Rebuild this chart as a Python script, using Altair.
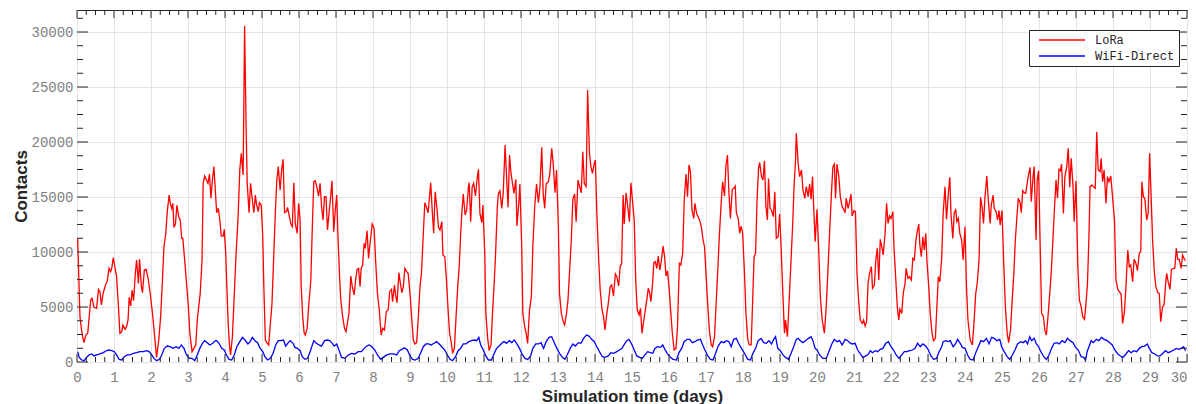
import altair as alt
import pandas as pd

# ---------------- data ----------------
SERIES = ["LoRa", "WiFi-Direct"]
COLORS = ["#ff0000", "#0000ff"]

lora_days = [
    0.018, 0.08, 0.135, 0.19, 0.24, 0.29, 0.37, 0.405, 0.46, 0.53, 0.58, 0.62, 0.66, 0.71, 0.77, 0.82, 0.865, 0.91, 0.946, 0.98,
    1.03, 1.07, 1.12, 1.16, 1.21, 1.24, 1.30, 1.34, 1.38, 1.41, 1.45, 1.49, 1.53, 1.58, 1.61, 1.66, 1.69, 1.74, 1.77, 1.82, 1.87, 1.93, 1.98,
    2.04, 2.10, 2.15, 2.21, 2.26, 2.31, 2.35, 2.40, 2.44, 2.49, 2.52, 2.56, 2.59, 2.62, 2.66, 2.70, 2.75, 2.79, 2.83, 2.86, 2.91, 2.96,
    3.01, 3.05, 3.11, 3.16, 3.21, 3.25, 3.29, 3.33, 3.38, 3.41, 3.45, 3.50, 3.54, 3.58, 3.62, 3.66, 3.70,
    3.775, 3.82, 3.86, 3.90, 3.95, 3.98, 4.02, 4.05, 4.09, 4.12, 4.15, 4.20, 4.24, 4.30, 4.35, 4.40, 4.44, 4.49, 4.53, 4.57,
    4.60, 4.65, 4.69, 4.74, 4.78, 4.82, 4.85, 4.90, 4.93, 4.98, 5.02, 5.05, 5.09, 5.13, 5.18, 5.22, 5.27, 5.32, 5.36, 5.40,
    5.44, 5.49, 5.53, 5.57, 5.61, 5.66, 5.69, 5.74, 5.78, 5.82, 5.86, 5.90, 5.95, 5.99, 6.03, 6.06, 6.10, 6.14, 6.17, 6.22,
    6.26, 6.32, 6.36, 6.40, 6.44, 6.49, 6.53, 6.57, 6.61, 6.65, 6.69, 6.73, 6.77, 6.82, 6.86, 6.89, 6.94, 6.98, 7.02, 7.05,
    7.10, 7.13, 7.18, 7.23, 7.27, 7.32, 7.35, 7.40, 7.44, 7.49, 7.53, 7.57, 7.61,
    7.65, 7.68, 7.72, 7.76, 7.79, 7.84, 7.88, 7.93, 7.98, 8.03, 8.07, 8.12, 8.17, 8.22, 8.26, 8.31, 8.36, 8.41, 8.45, 8.50,
    8.53, 8.58, 8.61, 8.65, 8.70, 8.74, 8.78, 8.82, 8.86, 8.91, 8.95, 9.00, 9.05, 9.09, 9.13, 9.18, 9.22, 9.27, 9.31, 9.36,
    9.40, 9.44, 9.49, 9.52, 9.56, 9.60, 9.64, 9.68, 9.73, 9.77, 9.81, 9.86, 9.89, 9.94, 9.98, 10.03, 10.07, 10.12, 10.15, 10.20,
    10.24, 10.29, 10.33, 10.37, 10.40, 10.44, 10.49, 10.53, 10.58, 10.60, 10.64, 10.68, 10.72, 10.77, 10.81, 10.85, 10.89, 10.94, 10.97, 11.02,
    11.05, 11.10, 11.14, 11.19, 11.23, 11.27, 11.31, 11.36, 11.39, 11.43, 11.48, 11.52,
    11.57, 11.61, 11.65, 11.69, 11.73, 11.77, 11.81, 11.86, 11.89, 11.94, 11.97, 12.02, 12.05, 12.10, 12.14, 12.18, 12.23, 12.28, 12.32, 12.37,
    12.42, 12.47, 12.51, 12.56, 12.60, 12.64, 12.68, 12.74, 12.78, 12.83, 12.87, 12.92, 12.96, 13.01, 13.04, 13.09, 13.14, 13.18, 13.23, 13.27,
    13.31, 13.36, 13.40, 13.45, 13.49, 13.54, 13.58, 13.63, 13.67, 13.71, 13.76, 13.80, 13.85, 13.89, 13.93, 13.98, 14.01, 14.05, 14.10, 14.14,
    14.19, 14.23, 14.27, 14.32, 14.36, 14.41, 14.45, 14.50, 14.55, 14.59, 14.64, 14.68, 14.72, 14.76, 14.79, 14.84, 14.88, 14.93, 14.97, 15.02,
    15.06, 15.10, 15.14, 15.19, 15.23, 15.27, 15.32, 15.36, 15.40, 15.44, 15.48,
    15.51, 15.55, 15.59, 15.63, 15.67, 15.71, 15.75, 15.79, 15.84, 15.88, 15.92, 15.96, 16.00, 16.05, 16.09, 16.14, 16.19, 16.23, 16.28, 16.32,
    16.37, 16.41, 16.46, 16.50, 16.54, 16.58, 16.62, 16.67, 16.70, 16.75, 16.79, 16.84, 16.88, 16.92, 16.96, 17.00, 17.05, 17.09, 17.14, 17.18,
    17.23, 17.27, 17.32, 17.36, 17.41, 17.45, 17.50, 17.54, 17.58, 17.62, 17.66, 17.71, 17.75, 17.79, 17.82, 17.87, 17.91, 17.95, 17.99, 18.04,
    18.08, 18.13, 18.17, 18.22, 18.25, 18.30, 18.34, 18.38, 18.42, 18.45, 18.50, 18.54, 18.58, 18.62, 18.66, 18.69, 18.73, 18.77, 18.82, 18.86,
    18.90, 18.95, 18.99, 19.03, 19.07, 19.12, 19.15, 19.20, 19.24, 19.29, 19.34, 19.38, 19.42,
    19.44, 19.49, 19.53, 19.58, 19.62, 19.67, 19.71, 19.76, 19.80, 19.84, 19.88, 19.91, 19.95, 20.00, 20.05, 20.09, 20.14, 20.20, 20.25, 20.30,
    20.34, 20.39, 20.43, 20.47, 20.50, 20.54, 20.59, 20.63, 20.68, 20.72, 20.76, 20.79, 20.84, 20.88, 20.92, 20.95, 21.00, 21.04, 21.08, 21.13,
    21.17, 21.22, 21.26, 21.30, 21.34, 21.38, 21.42, 21.47, 21.50, 21.55, 21.59, 21.63, 21.67, 21.71, 21.75, 21.79, 21.84, 21.88, 21.92, 21.96,
    22.00, 22.05, 22.08, 22.13, 22.17, 22.21, 22.24, 22.29, 22.33, 22.38, 22.41, 22.46, 22.50, 22.55, 22.59, 22.63, 22.67, 22.70, 22.75, 22.78,
    22.82, 22.86, 22.90, 22.94, 22.97, 23.02, 23.06, 23.11, 23.15, 23.20, 23.24, 23.28, 23.32,
    23.37, 23.41, 23.46, 23.50, 23.55, 23.59, 23.62, 23.67, 23.71, 23.75, 23.78, 23.82, 23.86, 23.91, 23.95, 24.00, 24.04, 24.08, 24.14, 24.20,
    24.24, 24.29, 24.33, 24.38, 24.42, 24.46, 24.50, 24.54, 24.59, 24.63, 24.68, 24.71, 24.76, 24.79, 24.84, 24.88, 24.92, 24.95, 25.00, 25.05,
    25.09, 25.14, 25.18, 25.23, 25.27, 25.32, 25.36, 25.41, 25.44, 25.49, 25.52, 25.56, 25.60, 25.64, 25.68, 25.72, 25.76, 25.79, 25.84, 25.87,
    25.92, 25.95, 25.99, 26.04, 26.07, 26.12, 26.16, 26.20, 26.25, 26.29, 26.33, 26.38, 26.42, 26.46, 26.50, 26.54, 26.58, 26.61, 26.66, 26.70,
    26.75, 26.79, 26.83, 26.87, 26.92, 26.95, 27.00, 27.05, 27.09, 27.14, 27.18, 27.23,
    27.27, 27.31, 27.35, 27.38, 27.43, 27.47, 27.52, 27.56, 27.60, 27.65, 27.68, 27.72, 27.76, 27.81, 27.85, 27.89, 27.94, 27.98, 28.04, 28.08,
    28.13, 28.17, 28.22, 28.26, 28.31, 28.35, 28.40, 28.44, 28.48, 28.53, 28.57, 28.62, 28.66, 28.71, 28.75, 28.78, 28.82, 28.86, 28.91, 28.95,
    28.99, 29.04, 29.07, 29.12, 29.16, 29.21, 29.25, 29.29, 29.34, 29.38, 29.42, 29.45, 29.49, 29.54, 29.58, 29.63, 29.67, 29.71, 29.75, 29.79,
    29.84, 29.88, 29.93, 29.96,
]
lora_contacts = [
    11240, 4120, 2610, 1760, 2450, 2610, 5640, 5790, 4970, 4880, 6600, 6390, 5180, 6300, 7000, 7390, 8510, 8210, 8670, 9480,
    8510, 7760, 5030, 2610, 2760, 3360, 2970, 3210, 3820, 5880, 5090, 6540, 5580, 8210, 9270, 7150, 9330, 6850, 6300, 8360, 8420, 7450, 6180,
    4420, 2300, 420, 2000, 4120, 7450, 10480, 11700, 13670, 15180, 14420, 13970, 14420, 12240, 12540, 14240, 13210, 12910, 11240, 11240, 9270, 7150,
    5030, 2610, 940, 1240, 1550, 3820, 5030, 6240, 9270, 16240, 16910, 16540, 16240, 17090, 14880, 16540, 17760,
    13570, 13970, 12910, 11450, 11450, 12060, 9880, 6850, 3210, 1550, 640, 2300, 5330, 9880, 12910, 17450, 18970, 17000, 30540, 21390,
    16240, 13570, 16240, 14730, 13570, 15180, 14360, 13670, 14480, 14270, 11390, 6850, 2000, 1760, 1550, 3210, 5330, 9880, 13510, 16540,
    17760, 15630, 17450, 18420, 13570, 13670, 14060, 13210, 12540, 12300, 16300, 12600, 11700, 14420, 12910, 6850, 4120, 2610, 2450, 3060,
    5030, 7450, 12300, 16390, 16480, 15790, 15090, 16240, 14120, 12910, 15030, 15030, 12000, 13820, 15180, 16480, 11850, 13820, 15180, 11700,
    7450, 5640, 4120, 3060, 2760, 3820, 4420, 7820, 6850, 6090, 7450, 8420, 8510,
    6850, 8510, 8820, 10790, 10330, 11940, 9420, 11090, 12540, 12150, 9270, 6240, 4730, 2450, 3060, 2910, 4580, 4730, 6390, 6600,
    5480, 7000, 6090, 5390, 8120, 7150, 6300, 6850, 8510, 8210, 8060, 6240, 3820, 2000, 1640, 1760, 3820, 6850, 8060, 11700,
    14480, 14120, 13570, 14730, 16300, 13820, 11700, 15480, 13880, 12240, 12000, 12760, 9730, 9570, 7760, 4730, 2610, 1700, 790, 1240,
    3820, 6850, 8670, 11700, 13510, 15270, 13360, 13820, 15940, 16300, 12760, 15940, 16240, 15090, 16540, 17510, 13510, 12670, 14270, 9880,
    4420, 2150, 1030, 1550, 4420, 6850, 9570, 14120, 15330, 15570, 13970, 15390,
    19730, 16850, 14060, 18820, 17150, 16240, 15330, 16600, 12360, 14420, 16180, 10480, 4420, 3210, 2610, 1700, 4730, 5940, 10480, 14120,
    16180, 14480, 15790, 19510, 15330, 13970, 16180, 16390, 17150, 19420, 18060, 15390, 17450, 12300, 6240, 4420, 3670, 3360, 4420, 5640,
    8060, 11090, 14790, 15270, 12760, 16540, 16000, 15390, 19120, 16240, 15940, 24720, 18970, 17760, 17150, 18060, 18360, 13510, 9270, 6540,
    4730, 4120, 2910, 4420, 5330, 6850, 7000, 6000, 8000, 7760, 6910, 8670, 8970, 15180, 12540, 15390, 14270, 12760, 16300, 14420,
    12910, 7450, 4790, 4270, 4880, 2610, 3820, 4730, 5640, 6700, 6240,
    5480, 6850, 9030, 9120, 8510, 9640, 8360, 9120, 10540, 9570, 7820, 8300, 6850, 4420, 2610, 1090, 1240, 3210, 8970, 8820,
    9880, 14570, 17090, 15030, 17910, 17300, 13820, 13060, 14420, 13450, 13210, 12760, 12150, 11090, 10480, 8060, 5030, 2910, 1550, 1390,
    2300, 5030, 8510, 11390, 14480, 16390, 15090, 17910, 18820, 15330, 13060, 15700, 15790, 16000, 13570, 13060, 11700, 12360, 11700, 8060,
    4420, 2000, 1550, 1550, 4420, 9570, 9880, 14730, 17600, 18120, 16850, 16540, 18300, 14120, 12910, 16690, 13970, 13820, 13210, 15480,
    11240, 11390, 13450, 10480, 6850, 2610, 3820, 2300, 5030, 8670, 12300, 15940, 18360,
    20790, 18060, 16850, 17450, 15630, 14880, 15940, 15030, 16180, 14790, 16850, 14120, 10940, 13880, 9880, 5940, 3820, 2610, 5030, 8670,
    11700, 15330, 17760, 18000, 14880, 18000, 16850, 15030, 14120, 13880, 13570, 14880, 13970, 14570, 15270, 13270, 13760, 13670, 8060, 5330,
    3820, 3510, 3820, 3270, 3670, 7150, 8060, 8670, 6700, 7000, 9270, 10330, 7450, 11150, 10480, 9730, 11700, 14420, 12600, 13270,
    13060, 13670, 10480, 7450, 5030, 3820, 4790, 4420, 6240, 7150, 8510, 7600, 7760, 7450, 9420, 9270, 10940, 11700, 12540, 10640,
    9570, 11390, 10180, 11700, 9270, 6850, 4420, 2610, 1940, 2150, 5030, 7760, 7300,
    9360, 13510, 15940, 12970, 15330, 16790, 13510, 11240, 13570, 13820, 12760, 13060, 11700, 11090, 9270, 12300, 6850, 3820, 2000, 1550,
    3360, 6240, 7150, 9270, 14970, 14120, 12600, 15030, 16910, 14730, 12600, 14270, 15180, 13970, 13670, 12910, 13760, 12450, 13760, 8670,
    5030, 2610, 1760, 2910, 5330, 8060, 11090, 13510, 14880, 14480, 13570, 15570, 15390, 15330, 16240, 17090, 17700, 14570, 16850, 17760,
    11090, 16540, 17390, 9270, 4420, 4120, 2850, 2450, 4420, 6240, 8060, 11390, 14120, 16540, 14880, 17510, 17390, 18000, 13510, 16850,
    17760, 19420, 15880, 18510, 15940, 12760, 16480, 8670, 5640, 5030, 4120, 3880,
    5330, 7150, 11390, 15940, 16090, 15940, 15790, 20940, 17450, 17300, 18510, 16390, 17450, 14420, 16850, 16390, 16910, 15330, 12910, 7450,
    6600, 6390, 6180, 3510, 4580, 6850, 10180, 8670, 8820, 7300, 9330, 8970, 8300, 9880, 10030, 16390, 15030, 14880, 12910, 13510,
    18970, 14120, 11090, 8060, 6850, 6300, 6240, 3670, 5030, 5180, 7000, 8060, 7300, 6600, 8420, 8510, 8510, 10330, 9330, 9330,
    8510, 9730, 9330, 9210,
]

wifi_days = [
    0.02, 0.06, 0.13, 0.19, 0.26, 0.32, 0.40, 0.46, 0.53, 0.62, 0.71, 0.78, 0.86, 0.94, 1.01, 1.07, 1.14, 1.21, 1.28, 1.36,
    1.43, 1.52, 1.61, 1.70, 1.79, 1.88, 1.95, 2.02, 2.08, 2.15, 2.23, 2.29, 2.36, 2.44, 2.51, 2.60, 2.68, 2.75, 2.82, 2.89,
    2.96, 3.04, 3.11, 3.18, 3.25, 3.32, 3.39, 3.45, 3.52, 3.59, 3.67, 3.74,
    3.77, 3.84, 3.91, 3.98, 4.04, 4.11, 4.18, 4.25, 4.32, 4.40, 4.47, 4.54, 4.62, 4.68, 4.74, 4.81, 4.88, 4.95, 5.02, 5.08,
    5.15, 5.23, 5.30, 5.37, 5.44, 5.51, 5.58, 5.64, 5.71, 5.76, 5.84, 5.89, 5.96, 6.03, 6.09, 6.16, 6.23, 6.30, 6.40, 6.47,
    6.54, 6.61, 6.69, 6.76, 6.83, 6.90, 6.95, 7.02, 7.08, 7.15, 7.24, 7.33, 7.42, 7.51, 7.60,
    7.69, 7.76, 7.83, 7.90, 7.97, 8.05, 8.12, 8.21, 8.28, 8.37, 8.46, 8.55, 8.64, 8.71, 8.78, 8.85, 8.93, 9.00, 9.07, 9.14,
    9.22, 9.29, 9.36, 9.43, 9.50, 9.57, 9.65, 9.72, 9.79, 9.86, 9.94, 10.01, 10.08, 10.15, 10.23, 10.30, 10.37, 10.44, 10.51, 10.59,
    10.66, 10.73, 10.80, 10.86, 10.91, 10.98, 11.05, 11.12, 11.20, 11.27, 11.34, 11.41, 11.48, 11.54,
    11.61, 11.68, 11.75, 11.82, 11.89, 11.96, 12.04, 12.11, 12.18, 12.26, 12.32, 12.40, 12.47, 12.54, 12.61, 12.68, 12.76, 12.83, 12.90, 12.97,
    13.04, 13.12, 13.19, 13.26, 13.33, 13.40, 13.47, 13.55, 13.62, 13.69, 13.77, 13.84, 13.91, 13.98, 14.05, 14.12, 14.20, 14.27, 14.36, 14.43,
    14.50, 14.59, 14.66, 14.73, 14.80, 14.86, 14.92, 14.99, 15.06, 15.13, 15.21, 15.28, 15.35, 15.42, 15.50,
    15.56, 15.62, 15.69, 15.77, 15.83, 15.89, 15.96, 16.04, 16.11, 16.20, 16.27, 16.34, 16.41, 16.49, 16.56, 16.63, 16.70, 16.77, 16.85, 16.91,
    16.97, 17.05, 17.12, 17.19, 17.26, 17.33, 17.41, 17.48, 17.55, 17.62, 17.68, 17.75, 17.82, 17.89, 17.96, 18.04, 18.13, 18.20, 18.27, 18.34,
    18.41, 18.49, 18.56, 18.63, 18.70, 18.77, 18.83, 18.88, 18.94, 19.01, 19.08, 19.15, 19.23, 19.30, 19.37, 19.44,
    19.49, 19.55, 19.62, 19.69, 19.77, 19.84, 19.89, 19.95, 20.00, 20.07, 20.16, 20.25, 20.32, 20.40, 20.47, 20.54, 20.61, 20.68, 20.76, 20.83,
    20.88, 20.95, 21.03, 21.10, 21.17, 21.24, 21.32, 21.39, 21.44, 21.50, 21.57, 21.64, 21.71, 21.78, 21.86, 21.93, 22.00, 22.07, 22.14, 22.22,
    22.29, 22.36, 22.43, 22.50, 22.58, 22.65, 22.72, 22.79, 22.86, 22.94, 23.01, 23.08, 23.15, 23.23, 23.30, 23.37,
    23.41, 23.48, 23.55, 23.60, 23.68, 23.75, 23.80, 23.87, 23.93, 24.00, 24.07, 24.14, 24.22, 24.29, 24.36, 24.43, 24.50, 24.58, 24.65, 24.72,
    24.79, 24.86, 24.94, 24.99, 25.06, 25.14, 25.21, 25.28, 25.35, 25.42, 25.50, 25.57, 25.64, 25.69, 25.75, 25.80, 25.87, 25.93, 25.98, 26.05,
    26.13, 26.20, 26.27, 26.34, 26.41, 26.48, 26.55, 26.62, 26.70, 26.77, 26.84, 26.92, 26.99, 27.06, 27.14, 27.21, 27.26,
    27.30, 27.35, 27.41, 27.47, 27.55, 27.62, 27.69, 27.76, 27.84, 27.91, 27.98, 28.05, 28.13, 28.20, 28.27, 28.35, 28.42, 28.49, 28.56, 28.64,
    28.71, 28.78, 28.85, 28.93, 28.98, 29.05, 29.13, 29.20, 29.27, 29.35, 29.42, 29.49, 29.56, 29.64, 29.71, 29.78, 29.85, 29.91, 29.96,
]
wifi_contacts = [
    940, 420, 180, 120, 420, 640, 730, 550, 640, 730, 850, 1000, 1090, 1030, 940, 640, 240, 180, 480, 640,
    640, 790, 850, 940, 940, 1030, 940, 640, 330, 120, 240, 640, 1240, 1450, 1390, 1240, 1390, 1240, 1550, 1240,
    640, 330, 330, 120, 640, 1240, 1700, 1940, 1760, 1550, 1700, 1940,
    1940, 1700, 1240, 1090, 640, 240, 180, 640, 1390, 1850, 2240, 2000, 1640, 1850, 2240, 1940, 1760, 1240, 940, 480,
    180, 330, 790, 1550, 1940, 1940, 2000, 1450, 1760, 1940, 1700, 1330, 1240, 1030, 480, 240, 330, 940, 1940, 1700,
    1550, 1450, 1940, 2000, 1940, 1700, 1450, 1640, 1090, 420, 330, 640, 790, 730, 940,
    940, 1240, 1450, 1550, 1390, 1090, 640, 240, 420, 640, 730, 730, 640, 1030, 1150, 1300, 1090, 550, 240, 180,
    330, 850, 1390, 1640, 1640, 1550, 1700, 1850, 1640, 1390, 1090, 640, 240, 120, 480, 1030, 1240, 1640, 1640, 1850,
    1940, 2000, 1940, 2240, 1550, 1090, 550, 180, 180, 730, 1240, 1450, 1700, 1850,
    1700, 1940, 1760, 2000, 1640, 1240, 640, 330, 240, 550, 1240, 1640, 1640, 1760, 1240, 1850, 2240, 2300, 1760, 1240,
    790, 420, 240, 730, 1240, 1640, 1450, 1760, 1700, 2150, 2450, 2360, 2060, 1850, 1390, 940, 480, 420, 550, 850,
    790, 940, 1090, 1240, 1640, 1940, 2060, 1640, 1090, 550, 420, 330, 640, 940, 850,
    790, 1240, 1390, 1330, 1550, 1150, 730, 420, 240, 180, 850, 1240, 1850, 2060, 2060, 1760, 1850, 2000, 2060, 1550,
    1090, 550, 240, 180, 790, 1450, 1850, 1760, 1940, 1850, 1390, 2060, 2150, 1640, 1240, 790, 240, 180, 790, 1240,
    1940, 2150, 1760, 1700, 1940, 1640, 2060, 2300, 1240, 1030, 640, 420, 240, 790, 1390, 2060,
    2150, 1940, 1760, 1940, 2150, 2300, 1940, 1240, 1090, 640, 330, 330, 940, 1640, 2060, 1850, 1940, 1550, 2060, 1940,
    1760, 1640, 1700, 1090, 730, 420, 550, 730, 1030, 850, 1030, 940, 1150, 1240, 1700, 1850, 1390, 1090, 640, 330,
    640, 940, 940, 1030, 1090, 1240, 1700, 1390, 1640, 1450, 1090, 550, 240, 330, 940, 1390,
    1850, 1940, 1850, 1940, 1390, 1700, 2060, 1700, 1330, 1240, 640, 240, 180, 850, 1390, 1940, 1850, 2150, 1640, 2240,
    2150, 1940, 2060, 1390, 940, 480, 240, 640, 1090, 1640, 1850, 1760, 1940, 1640, 2300, 1940, 2150, 1640, 1450, 940,
    480, 240, 640, 1240, 1700, 1760, 1640, 1940, 1760, 2150, 1940, 1760, 1330, 1090, 480, 420, 180,
    940, 1390, 1940, 1760, 2060, 1940, 2240, 2060, 1940, 1760, 1550, 1090, 730, 550, 420, 730, 1030, 850, 1030, 940,
    1240, 1390, 1450, 1640, 1240, 850, 730, 550, 550, 790, 1030, 850, 940, 1090, 1240, 1150, 1240, 1390, 1030,
]

# axis ticks and labels
x_tick_values = list(range(0, 31))
y_tick_values = [0, 5000, 10000, 15000, 20000, 25000, 30000]
x_minor_values = [i / 4 for i in range(0, 121) if i % 4 != 0]
y_minor_values = [i * 1250 for i in range(0, 26) if i % 4 != 0]

X_TITLE = "Simulation time (days)"
Y_TITLE = "Contacts"

# ---------------- build table ----------------
n1 = min(len(lora_days), len(lora_contacts))
n2 = min(len(wifi_days), len(wifi_contacts))
df = pd.concat([
    pd.DataFrame({"day": lora_days[:n1], "contacts": lora_contacts[:n1], "series": SERIES[0]}),
    pd.DataFrame({"day": wifi_days[:n2], "contacts": wifi_contacts[:n2], "series": SERIES[1]}),
], ignore_index=True)

W, H = 1110, 352
FRAME = "#262626"
xs = alt.Scale(domain=[0, 30], nice=False, zero=False)
ys = alt.Scale(domain=[0, 32000], nice=False)

x_axis = alt.Axis(values=x_tick_values, title=X_TITLE, labelPadding=8,
                  labelFlush=False, format="d",
                  labelAlign={"condition": {"test": "datum.value >= 30", "value": "right"},
                              "value": "center"},
                  titleY=39, titleBaseline="alphabetic")
y_axis = alt.Axis(values=y_tick_values, title=Y_TITLE, labelPadding=4,
                  labelFlush=False, format="d",
                  titleX=-51, titleY=H / 2, titleAngle=270, titleAlign="center",
                  titleBaseline="alphabetic")

lines = alt.Chart(df).mark_line(strokeWidth=1.3).encode(
    x=alt.X("day:Q", scale=xs, axis=x_axis),
    y=alt.Y("contacts:Q", scale=ys, axis=y_axis),
    color=alt.Color("series:N", scale=alt.Scale(domain=SERIES, range=COLORS),
                    legend=alt.Legend(
                        title=None, orient="none", legendX=952, legendY=20,
                        direction="vertical", symbolType="stroke", symbolSize=2116,
                        symbolStrokeWidth=1.5, symbolOffset=5, clipHeight=12,
                        rowPadding=4, padding=4, labelOffset=9,
                        labelFont="Liberation Mono", labelFontSize=12,
                        labelColor="#262626", strokeColor=FRAME, fillColor="white")),
)


def x_tick_layers(vals, length):
    d = pd.DataFrame({"day": vals})
    base = alt.Chart(d).mark_rule(color=FRAME, strokeWidth=1)
    enc = alt.X("day:Q", scale=xs, axis=x_axis)
    return [
        base.encode(x=enc, y=alt.value(H), y2=alt.value(H - length)),
        base.encode(x=enc, y=alt.value(0), y2=alt.value(length)),
    ]


def y_tick_layers(vals, length):
    d = pd.DataFrame({"contacts": vals})
    base = alt.Chart(d).mark_rule(color=FRAME, strokeWidth=1)
    enc = alt.Y("contacts:Q", scale=ys, axis=y_axis)
    return [
        base.encode(y=enc, x=alt.value(0), x2=alt.value(length)),
        base.encode(y=enc, x=alt.value(W), x2=alt.value(W - length)),
    ]


layers = [lines]
layers += x_tick_layers(x_tick_values, 8)
layers += x_tick_layers(x_minor_values, 5)
layers += y_tick_layers(y_tick_values, 11)
layers += y_tick_layers(y_minor_values, 6)

chart = alt.layer(*layers).properties(
    width=W, height=H,
    padding={"left": 69, "top": 2, "right": 1, "bottom": 42},
    autosize=alt.AutoSizeParams(type="none"),
).configure_view(
    stroke=FRAME, strokeWidth=1,
).configure_axis(
    grid=True, gridColor="#e4e4e4", gridWidth=1,
    domain=False, ticks=True, tickSize=0,
    labelFont="Liberation Mono", labelFontSize=14, labelColor="#808080",
    titleFont="Liberation Sans", titleFontSize=17, titleFontWeight="bold",
    titleColor="#262626",
).configure_legend(
    cornerRadius=0,
)

chart.save("out.html", embed_options={"renderer": "svg", "actions": False})
